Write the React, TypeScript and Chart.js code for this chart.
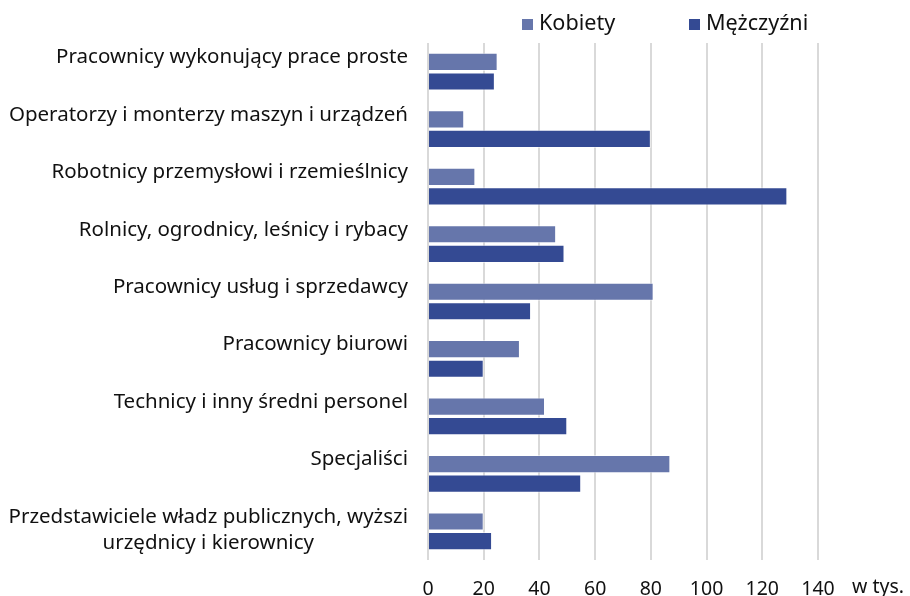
import React, { useEffect, useRef } from 'react';
import { Chart, registerables } from 'chart.js';

Chart.register(...registerables);

const FONT = '"Noto Sans"';

const categories: string[][] = [
  ['Pracownicy wykonujący prace proste'],
  ['Operatorzy i monterzy maszyn i urządzeń'],
  ['Robotnicy przemysłowi i rzemieślnicy'],
  ['Rolnicy, ogrodnicy, leśnicy i rybacy'],
  ['Pracownicy usług i sprzedawcy'],
  ['Pracownicy biurowi'],
  ['Technicy i inny średni personel'],
  ['Specjaliści'],
  ['Przedstawiciele władz publicznych, wyższi', 'urzędnicy i kierownicy'],
];

const kobiety = [25, 13, 17, 46, 81, 33, 42, 87, 20];
const mezczyzni = [24, 80, 129, 49, 37, 20, 50, 55, 23];

const seriesNames = ['Kobiety', 'Mężczyźni'];
const seriesColors = ['#6676AB', '#344A93'];

const xMin = 0;
const xMax = 140;
const xStep = 20;
const unitLabel = 'w tys.';

const yLabelsPlugin = {
  id: 'yLabelsCustom',
  afterDraw(chart: any) {
    const ctx = chart.ctx;
    const yScale = chart.scales.y;
    const area = chart.chartArea;
    ctx.save();
    ctx.font = `20.5px ${FONT}`;
    ctx.fillStyle = '#111111';
    ctx.textBaseline = 'alphabetic';
    ctx.textAlign = 'center';
    const right = area.left - 20;
    (chart.data.labels as any[]).forEach((lab, i) => {
      const lines: string[] = Array.isArray(lab) ? lab : [lab];
      const w = Math.max(...lines.map((l) => ctx.measureText(l).width));
      const cx = right - w / 2;
      const base = yScale.getPixelForValue(i) - 8.5;
      lines.forEach((l, j) => ctx.fillText(l, cx, base + j * 26.5));
    });
    ctx.restore();
  },
};

const legendPlugin = {
  id: 'legendCustom',
  afterDraw(chart: any) {
    const ctx = chart.ctx;
    ctx.save();
    ctx.font = `21.6px ${FONT}`;
    ctx.textBaseline = 'alphabetic';
    ctx.textAlign = 'left';
    const starts = [522, 689];
    chart.data.datasets.forEach((ds: any, i: number) => {
      const x = starts[i];
      ctx.fillStyle = ds.backgroundColor;
      ctx.fillRect(x, 19, 11, 11);
      ctx.fillStyle = '#111111';
      ctx.fillText(ds.label, x + 17, 30);
    });
    ctx.restore();
  },
};

const unitPlugin = {
  id: 'unitLabel',
  afterDraw(chart: any) {
    const ctx = chart.ctx;
    const area = chart.chartArea;
    ctx.save();
    ctx.font = `19.5px ${FONT}`;
    ctx.fillStyle = '#111111';
    ctx.textBaseline = 'alphabetic';
    ctx.textAlign = 'left';
    ctx.fillText(unitLabel, area.right + 34, 593);
    ctx.restore();
  },
};

export default function App() {
  const ref = useRef<HTMLCanvasElement | null>(null);

  useEffect(() => {
    document.body.style.margin = '0';
    if (!ref.current) return;
    const chart = new Chart(ref.current, {
      type: 'bar',
      data: {
        labels: categories as any,
        datasets: [
          {
            label: seriesNames[0],
            data: kobiety,
            backgroundColor: seriesColors[0],
            borderColor: 'rgba(255,255,255,0.55)',
            borderWidth: 1,
          },
          {
            label: seriesNames[1],
            data: mezczyzni,
            backgroundColor: seriesColors[1],
            borderColor: 'rgba(255,255,255,0.55)',
            borderWidth: 1,
          },
        ],
      },
      plugins: [yLabelsPlugin, legendPlugin, unitPlugin],
      options: {
        indexAxis: 'y',
        animation: false,
        responsive: true,
        maintainAspectRatio: false,
        datasets: {
          bar: {
            categoryPercentage: 0.68,
            barPercentage: 0.93,
          },
        },
        layout: {
          padding: { top: 43, right: 92, left: 428, bottom: 0 },
        },
        plugins: {
          legend: { display: false },
          tooltip: { enabled: false },
          title: { display: false },
        },
        scales: {
          x: {
            type: 'linear',
            min: xMin,
            max: xMax,
            ticks: {
              stepSize: xStep,
              padding: 18,
              color: '#111111',
              font: { family: FONT, size: 19.5 },
            },
            grid: {
              color: '#d9d9d9',
              lineWidth: 2,
              drawTicks: false,
            },
            border: { display: false },
            afterFit: (scale: any) => {
              scale.height = 36;
            },
          },
          y: {
            type: 'category',
            ticks: { display: false },
            grid: { display: false, drawTicks: false },
            border: { display: false },
          },
        },
      },
    });
    return () => chart.destroy();
  }, []);

  return (
    <div style={{ width: 910, height: 596, position: 'relative', background: '#fff' }}>
      <canvas ref={ref} />
    </div>
  );
}
